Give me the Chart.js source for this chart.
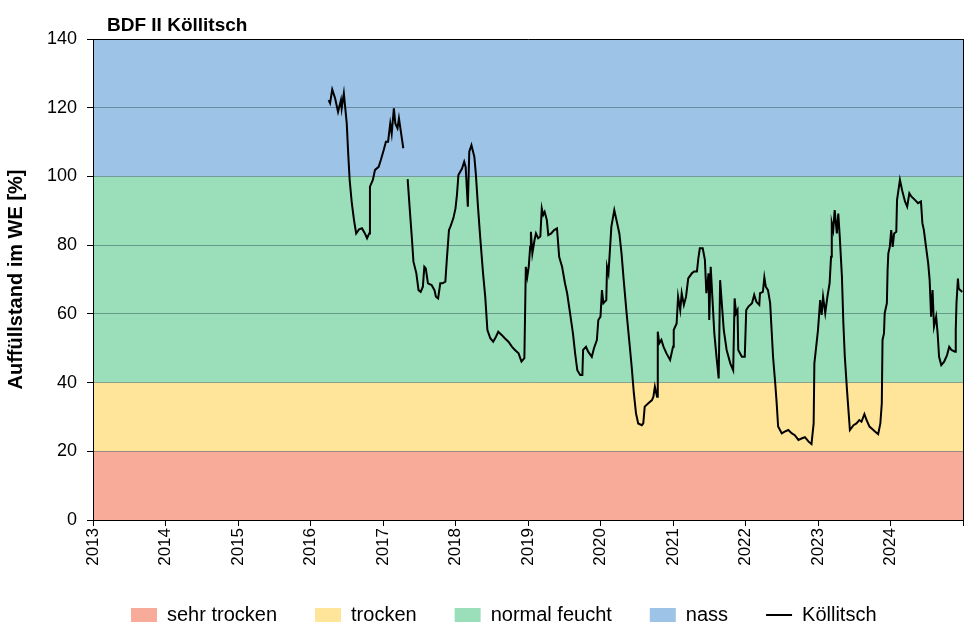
<!DOCTYPE html>
<html>
<head>
<meta charset="utf-8">
<script src="https://cdn.jsdelivr.net/npm/chart.js@4/dist/chart.umd.min.js"></script>
<style>
  html, body { margin: 0; padding: 0; background: #fff; }
  #wrap { width: 977px; height: 631px; }
</style>
</head>
<body>
<div id="wrap"><canvas id="chart"></canvas></div>
<script>
// Chart title and axis text
const chartTitle = 'BDF II Köllitsch';
const yAxisTitle = 'Auffüllstand im WE [%]';

// Background classes (lower / upper limit in % of available water capacity)
const bandNames = ['sehr trocken', 'trocken', 'normal feucht', 'nass'];
const bandLower = [0, 20, 40, 100];
const bandUpper = [20, 40, 100, 140];

// x range (years)
const yearStart = 2013;
const yearEnd = 2025;

// Köllitsch series: decimal year -> filling level [%] (null = data gap)
const kDates = [
  2016.25, 2016.27, 2016.30, 2016.34, 2016.38, 2016.42, 2016.43, 2016.46, 2016.48, 2016.50, 2016.52, 2016.54, 2016.57, 2016.60, 2016.63, 2016.67, 2016.71, 2016.75, 2016.78, 2016.81, 2016.82, 2016.86, 2016.89, 2016.94, 2016.97,
  2017.01, 2017.04, 2017.07, 2017.10, 2017.12, 2017.15, 2017.17, 2017.20, 2017.22, 2017.24, 2017.28, 2017.30, 2017.34, 2017.37, 2017.40, 2017.42, 2017.46, 2017.49, 2017.52, 2017.55, 2017.57, 2017.59, 2017.62, 2017.67, 2017.71, 2017.73, 2017.76, 2017.79, 2017.82, 2017.86, 2017.88, 2017.91, 2017.93, 2017.97,
  2018.00, 2018.02, 2018.04, 2018.09, 2018.12, 2018.14, 2018.17, 2018.19, 2018.22, 2018.26, 2018.28, 2018.31, 2018.34, 2018.38, 2018.41, 2018.44, 2018.48, 2018.52, 2018.56, 2018.59, 2018.64, 2018.68, 2018.73, 2018.78, 2018.82, 2018.87, 2018.91, 2018.95, 2018.97, 2018.99,
  2019.01, 2019.03, 2019.04, 2019.06, 2019.09, 2019.11, 2019.14, 2019.17, 2019.19, 2019.21, 2019.23, 2019.26, 2019.28, 2019.32, 2019.36, 2019.40, 2019.43, 2019.47, 2019.51, 2019.54, 2019.58, 2019.62, 2019.65, 2019.68, 2019.72, 2019.75, 2019.76, 2019.80, 2019.83, 2019.88, 2019.91, 2019.95, 2019.97,
  2020.00, 2020.02, 2020.04, 2020.08, 2020.09, 2020.11, 2020.13, 2020.15, 2020.19, 2020.22, 2020.26, 2020.29, 2020.32, 2020.36, 2020.40, 2020.43, 2020.46, 2020.49, 2020.52, 2020.57, 2020.59, 2020.61, 2020.66, 2020.71, 2020.73, 2020.75, 2020.78, 2020.79, 2020.81, 2020.84, 2020.87, 2020.91, 2020.96,
  2021.00, 2021.01, 2021.05, 2021.07, 2021.10, 2021.12, 2021.15, 2021.18, 2021.21, 2021.26, 2021.29, 2021.33, 2021.35, 2021.37, 2021.41, 2021.44, 2021.46, 2021.49, 2021.50, 2021.52, 2021.55, 2021.57, 2021.60, 2021.63, 2021.65, 2021.67, 2021.70, 2021.74, 2021.79, 2021.83, 2021.85, 2021.87, 2021.89, 2021.90, 2021.95, 2021.99,
  2022.01, 2022.04, 2022.09, 2022.12, 2022.15, 2022.19, 2022.20, 2022.24, 2022.26, 2022.28, 2022.31, 2022.34, 2022.36, 2022.38, 2022.41, 2022.43, 2022.45, 2022.50, 2022.54, 2022.59, 2022.64, 2022.68, 2022.73, 2022.78, 2022.82, 2022.87, 2022.91, 2022.94, 2022.95, 2022.98,
  2023.00, 2023.03, 2023.05, 2023.07, 2023.10, 2023.13, 2023.16, 2023.18, 2023.19, 2023.21, 2023.23, 2023.26, 2023.28, 2023.30, 2023.33, 2023.35, 2023.37, 2023.40, 2023.42, 2023.44, 2023.49, 2023.53, 2023.57, 2023.60, 2023.64, 2023.67, 2023.71, 2023.79, 2023.83, 2023.86, 2023.88, 2023.89, 2023.91, 2023.92, 2023.95, 2023.96, 2023.97, 2023.99,
  2024.01, 2024.03, 2024.05, 2024.08, 2024.09, 2024.13, 2024.16, 2024.20, 2024.23, 2024.26, 2024.29, 2024.34, 2024.38, 2024.42, 2024.44, 2024.46, 2024.49, 2024.52, 2024.54, 2024.56, 2024.58, 2024.60, 2024.63, 2024.65, 2024.67, 2024.70, 2024.74, 2024.78, 2024.81, 2024.84, 2024.89, 2024.90, 2024.91, 2024.93, 2024.94, 2024.96, 2024.99
];
const kValues = [
  122.2, 121.3, 125.3, 122.7, 118.8, 122.2, 119.8, 124.2, 119.8, 115.4, 106.7, 99.0, 92.2, 87.3, 83.4, 84.6, 84.9, 83.4, 82.0, 83.4, 97.0, 99.0, 101.9, 102.8, 104.8,
  107.7, 110.1, 110.1, 115.4, 112.5, 119.8, 115.4, 114.0, 116.9, 114.0, 108.2, null, 99.2, 90.2, 81.5, 75.2, 71.8, 66.9, 66.4, 67.9, 73.7, 73.2, 68.9, 68.4, 66.9, 65.0, 64.5, 68.9, 68.9, 69.4, 75.7, 84.4, 85.4, 87.8,
  90.7, 94.6, 100.4, 102.3, 104.3, 102.8, 91.2, 107.2, 109.1, 105.7, 100.9, 91.2, 82.5, 71.8, 65.0, 55.3, 52.9, 51.9, 53.4, 54.8, 53.8, 52.9, 51.9, 50.4, 49.5, 48.5, 46.1, 47.1, 73.7, 70.8,
  73.7, 79.5, 83.9, 77.6, 81.5, 83.4, 82.0, 82.5, 90.7, 88.8, 89.7, 87.3, 82.9, 83.4, 84.4, 84.9, 76.6, 73.7, 68.9, 66.0, 60.2, 54.3, 48.5, 43.6, 42.2, 42.2, 49.5, 50.4, 49.0, 47.5, 50.0, 52.4, 58.2,
  59.2, 66.9, 63.1, 64.0, 73.7, 71.8, 78.6, 85.4, 90.2, 87.3, 83.4, 77.6, 69.8, 60.2, 51.4, 44.6, 36.9, 31.0, 28.1, 27.6, 28.1, 33.0, 34.0, 34.9, 35.9, 38.8, 35.9, 54.8, 51.4, 52.4, 50.4, 48.5, 46.6,
  50.4, 55.3, 57.2, 65.0, 61.1, 66.0, 62.6, 65.0, 70.3, 71.8, 72.3, 72.3, 76.2, 79.1, 79.1, 75.7, 66.0, 71.8, 58.2, 73.7, 62.1, 54.3, 47.5, 41.2, 69.8, 64.0, 55.3, 49.5, 45.6, 43.6, 64.5, 60.2, 61.1, 49.5, 47.5, 47.5,
  61.1, 62.1, 63.1, 65.5, 63.5, 62.6, 66.0, 66.4, 70.6, 67.9, 66.9, 63.1, 55.3, 47.5, 39.8, 34.0, 27.2, 25.2, 25.7, 26.2, 25.2, 24.7, 23.3, 23.8, 24.1, 22.8, 22.1, 28.1, 45.6, 51.4,
  55.3, 64.0, 59.7, 65.0, 60.2, 65.0, 68.9, 76.6, 86.4, 84.4, 90.2, 83.4, 89.2, 82.5, 70.8, 57.2, 47.5, 37.8, 32.0, 26.2, 27.6, 28.1, 29.1, 28.6, 30.8, 29.1, 27.2, 25.7, 25.0, 28.1, 34.0, 52.4, 54.3, 60.2, 63.1, 72.8, 77.6, 79.5,
  84.4, 79.5, 83.4, 83.9, 93.1, 99.0, 96.0, 92.7, 91.2, 95.1, 94.1, 93.1, 92.2, 92.7, 86.4, 84.4, 79.5, 74.7, 69.8, 59.2, 66.9, 56.3, 59.2, 54.3, 47.5, 45.1, 46.1, 48.0, 50.4, 49.5, 49.0, 55.3, 63.1, 70.3, 67.4, 66.9, 66.4
];
const seriesName = 'Köllitsch';

// styles
const bandColors = ['#f8ab98', '#fee59a', '#9adfba', '#9dc3e6'];
const FONT = '"Liberation Sans", Arial, sans-serif';
const X_AXIS_H = 47;

const datasets = bandNames.map((name, i) => ({
  label: name,
  data: [{x: yearStart, y: bandUpper[i]}, {x: yearEnd, y: bandUpper[i]}],
  backgroundColor: bandColors[i],
  borderColor: bandColors[i],
  borderWidth: 0,
  pointRadius: 0,
  pointStyle: 'rect',
  fill: {value: bandLower[i]},
  order: 1
}));

datasets.push({
  label: seriesName,
  data: kDates.map((d, i) => ({x: d, y: kValues[i]})),
  borderColor: '#000',
  backgroundColor: '#000',
  borderWidth: 2,
  pointRadius: 0,
  pointStyle: 'line',
  tension: 0,
  spanGaps: false,
  fill: false,
  order: 0
});

// title drawn above the plot, aligned near the plot's left edge
const titlePlugin = {
  id: 'plotTitle',
  afterDraw(chart) {
    const {ctx, chartArea} = chart;
    ctx.save();
    ctx.font = 'bold 19px ' + FONT;
    ctx.fillStyle = '#000';
    ctx.textBaseline = 'alphabetic';
    ctx.textAlign = 'left';
    ctx.fillText(chartTitle, chartArea.left + 14, 31);
    ctx.restore();
  }
};

new Chart(document.getElementById('chart'), {
  type: 'line',
  data: { datasets },
  plugins: [titlePlugin],
  options: {
    responsive: true,
    maintainAspectRatio: false,
    animation: false,
    layout: { padding: { top: 39, right: 14, bottom: -4, left: 0 } },
    plugins: {
      filler: { drawTime: 'beforeDraw' },
      tooltip: { enabled: false },
      title: { display: false },
      legend: {
        position: 'bottom',
        fullSize: false,
        align: 'start',
        labels: {
          usePointStyle: true,
          pointStyleWidth: 26,
          boxHeight: 14,
          padding: 38,
          color: '#000',
          font: { family: FONT, size: 20 },
          sort: (a, b) => a.datasetIndex - b.datasetIndex
        }
      }
    },
    scales: {
      x: {
        type: 'linear',
        min: yearStart,
        max: yearEnd,
        afterFit: s => { s.height = X_AXIS_H; s.paddingRight = 0; s.paddingLeft = 0; },
        border: { color: '#000', width: 1 },
        grid: {
          drawOnChartArea: true,
          color: c => (c.tick && c.tick.value === yearEnd) ? '#000' : 'rgba(0,0,0,0)',
          tickColor: '#000',
          tickLength: 6
        },
        ticks: {
          stepSize: 1,
          autoSkip: false,
          minRotation: 90,
          maxRotation: 90,
          padding: 2,
          color: '#000',
          font: { family: FONT, size: 17 },
          callback: v => v === yearEnd ? '' : String(v)
        }
      },
      y: {
        min: 0,
        max: 140,
        afterFit: s => { s.width = 93; },
        border: { color: '#000', width: 1 },
        title: {
          display: true,
          text: yAxisTitle,
          color: '#000',
          font: { family: FONT, size: 20, weight: 'bold' }
        },
        grid: {
          color: c => (c.tick && c.tick.value === 140) ? '#000' : 'rgba(40,70,80,0.45)',
          tickColor: '#000',
          tickLength: 6
        },
        ticks: {
          stepSize: 20,
          padding: 10,
          color: '#000',
          font: { family: FONT, size: 18 }
        }
      }
    }
  }
});
</script>
</body>
</html>
